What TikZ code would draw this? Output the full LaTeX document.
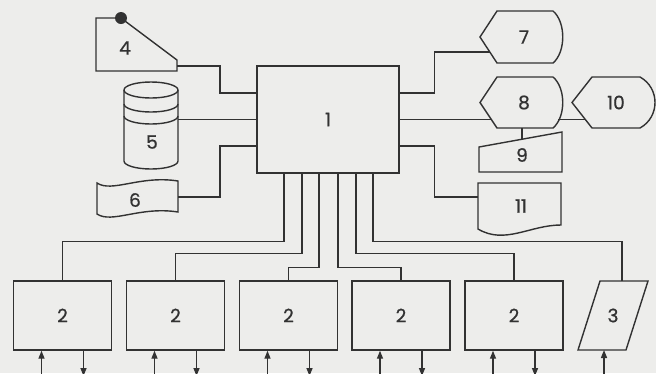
\documentclass[tikz,border=0pt]{standalone}
\usepackage{fontspec}
\setmainfont{Poppins}
\newfontfamily\lblfam[FakeBold=0.8]{Poppins}
\usetikzlibrary{arrows.meta}
\definecolor{ink}{RGB}{50,50,50}
\definecolor{paper}{RGB}{237,237,235}
\newcommand\lblfont{\lblfam\fontsize{18.5}{20}\selectfont}
\begin{document}
\begin{tikzpicture}[x=1pt,y=-1pt,line width=1.4pt,color=ink,line join=miter,
  box/.style={draw,minimum width=98pt,minimum height=69pt,inner sep=0pt,font=\lblfont},
  lab/.style={font=\lblfont,inner sep=0pt},
  arr/.style={-{Triangle[length=8pt,width=6pt]}}]
\fill[paper] (0,0) rectangle (656,373);
\useasboundingbox (0,0) rectangle (656,373);
% central unit
\node[draw,minimum width=142pt,minimum height=107pt,inner sep=0pt,font=\lblfont] (n1) at (328,119.5) {1};
% bottom boxes
\node[box] (b1) at (62.5,315.5) {2};
\node[box] (b2) at (175.5,315.5) {2};
\node[box] (b3) at (288.5,315.5) {2};
\node[box] (b4) at (401,315.5) {2};
\node[box] (b5) at (514,315.5) {2};
% parallelogram 3
\draw (578,350) -- (600,281) -- (648,281) -- (626,350) -- cycle;
\node[lab] (n3) at (613,315.5) {3};
\coordinate (p3t) at (622,281);
\coordinate (p3b) at (604,350);
% shape 4
\draw (96,18) -- (121,18) -- (177,60) -- (177,71) -- (96,71) -- cycle;
\fill (121,18) circle[radius=6pt];
\node[lab] (n4) at (125,48) {4};
\coordinate (c4) at (177,66);
% cylinder 5
\draw (124,90) -- (124,161) arc[start angle=180,end angle=360,x radius=27pt,y radius=8pt] -- (178,90);
\draw (151,90) ellipse[x radius=27pt,y radius=8pt];
\draw (124,104) arc[start angle=180,end angle=360,x radius=27pt,y radius=8pt];
\draw (124,116) arc[start angle=180,end angle=360,x radius=27pt,y radius=8pt];
\node[lab] (n5) at (152,142) {5};
\coordinate (c5) at (178,119.5);
% tape 6
\draw (97,183) .. controls (112,193) and (140,175) .. (178,181) -- (178,212)
  .. controls (140,206) and (112,224) .. (97,214) -- cycle;
\node[lab] (n6) at (135,200) {6};
\coordinate (c6) at (178,197);
% display 7
\draw (480,37) -- (497,11) -- (553,11) .. controls (566,22) and (566,52) .. (553,63) -- (497,63) -- cycle;
\node[lab] (n7) at (524,37) {7};
\coordinate (c7) at (490,52);
% display 8
\draw (480,102.5) -- (497,77) -- (553,77) .. controls (566,88) and (566,117) .. (553,128) -- (497,128) -- cycle;
\node[lab] (n8) at (524,102.5) {8};
\coordinate (c8w) at (491,119.5);
\coordinate (c8e) at (558,119.5);
\coordinate (c8s) at (522,128);
% display 10
\draw (572,102.5) -- (592,77) -- (640,77) .. controls (660,88) and (660,117) .. (640,128) -- (592,128) -- cycle;
\node[lab] (n10) at (616,102.5) {10};
\coordinate (c10w) at (585.3,119.5);
% manual input 9
\draw (479,147) -- (562,132) -- (562,172) -- (479,172) -- cycle;
\node[lab] (n9) at (522,155) {9};
\coordinate (c9n) at (522,139.2);
% document 11
\draw (478,183) -- (561,183) -- (561,225) .. controls (530,225) and (505,245) .. (478,229) -- cycle;
\node[lab] (n11) at (521,206) {11};
\coordinate (c11) at (478,197);
% connectors left
\draw (c4) -- ++(43,0) |- ([yshift=26.5pt]n1.west);
\draw (c5) -- (n1.west);
\draw (c6) -- ++(42,0) |- ([yshift=-26.5pt]n1.west);
% connectors right
\draw ([yshift=26.5pt]n1.east) -- ++(35,0) |- (c7);
\draw (n1.east) -- (c8w);
\draw (c8e) -- (c10w);
\draw (c8s) -- (c9n);
\draw ([yshift=-26.5pt]n1.east) -- ++(35,0) |- (c11);
% connectors bottom
\draw ([xshift=-44pt]n1.south) -- ++(0,68) -| (b1.north);
\draw ([xshift=-26pt]n1.south) -- ++(0,80) -| (b2.north);
\draw ([xshift=-9pt]n1.south) -- ++(0,94) -| (b3.north);
\draw ([xshift=10pt]n1.south) -- ++(0,94) -| (b4.north);
\draw ([xshift=28pt]n1.south) -- ++(0,80) -| (b5.north);
\draw ([xshift=45pt]n1.south) -- ++(0,68) -| (p3t);
% io arrows
\foreach \b in {b1,b2,b3,b4,b5}{
  \coordinate (\b-i) at ([xshift=-21pt]\b.south);
  \coordinate (\b-o) at ([xshift=21pt]\b.south);
  \draw[arr] (\b-i |- 0,374) -- (\b-i);
  \draw[arr] (\b-o) -- (\b-o |- 0,376);
}
\draw[arr] (p3b |- 0,374) -- (p3b);
\end{tikzpicture}
\end{document}
